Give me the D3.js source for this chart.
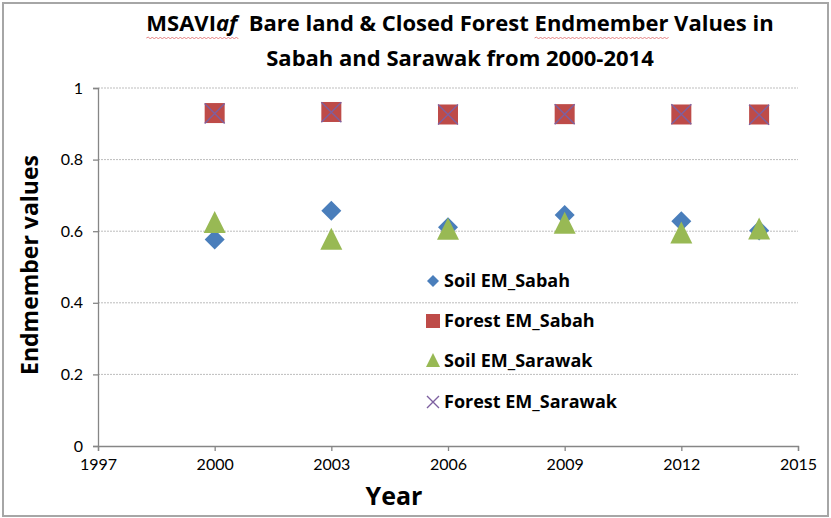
<!DOCTYPE html>
<html>
<head>
<meta charset="utf-8">
<script src="https://cdn.jsdelivr.net/npm/d3@7"></script>
<style>
  html, body { margin: 0; padding: 0; background: #fff; }
  svg { display: block; font-family: Lato, "Open Sans", sans-serif; }
  .bold { font-family: "Open Sans", sans-serif; font-weight: 700; white-space: pre; }
</style>
</head>
<body>
<svg id="chart" width="831" height="518"></svg>
<script>
// Endmember values per year
const years = [2000, 2003, 2006, 2009, 2012, 2014];
const soilSabah     = [0.577, 0.657, 0.611, 0.645, 0.628, 0.602];
const forestSabah   = [0.930, 0.933, 0.926, 0.927, 0.926, 0.926];
const soilSarawak   = [0.621, 0.574, 0.602, 0.619, 0.592, 0.603];
const forestSarawak = [0.929, 0.932, 0.926, 0.927, 0.927, 0.925];

const seriesNames = ["Soil EM_Sabah", "Forest EM_Sabah", "Soil EM_Sarawak", "Forest EM_Sarawak"];
const xTicks = [1997, 2000, 2003, 2006, 2009, 2012, 2015];
const yTicks = [0, 0.2, 0.4, 0.6, 0.8, 1];

const svg = d3.select("#chart");
const W = 831, H = 518;

// outer chart frame
svg.append("rect").attr("x", 3).attr("y", 3).attr("width", W - 6).attr("height", H - 5)
  .attr("fill", "#fff").attr("stroke", "#a6a6a6").attr("stroke-width", 2);

const x = d3.scaleLinear().domain([1997, 2015]).range([98, 798]);
const y = d3.scaleLinear().domain([0, 1]).range([446, 88]);

// horizontal gridlines
svg.append("g").selectAll("line").data(yTicks.filter(d => d > 0)).join("line")
  .attr("x1", x(1997)).attr("x2", x(2015))
  .attr("y1", d => y(d)).attr("y2", d => y(d))
  .attr("stroke", "#bdbdbd").attr("stroke-width", 1).attr("stroke-dasharray", "2,1");

// axes
const axisColor = "#868686";
const yAxis = svg.append("g").attr("transform", `translate(${x(1997)},0)`)
  .call(d3.axisLeft(y).tickValues(yTicks).tickFormat(d => d === 0 || d === 1 ? d : d3.format(".1f")(d)).tickSize(5).tickPadding(10));
const xAxis = svg.append("g").attr("transform", `translate(0,${y(0)})`)
  .call(d3.axisBottom(x).tickValues(xTicks).tickFormat(d3.format("d")).tickSize(5).tickPadding(8));
[yAxis, xAxis].forEach(g => {
  g.select(".domain").attr("stroke", axisColor).attr("stroke-width", 1.3);
  g.selectAll(".tick line").attr("stroke", axisColor).attr("stroke-width", 1.3);
  g.selectAll(".tick text").attr("fill", "#000").style("font-size", "16px")
    .style("font-family", "Lato, sans-serif");
});

// marker drawing helpers
const colors = { soilSabah: "#4a7ebb", forestSabah: "#be4b48", soilSarawak: "#98b954", forestSarawak: "#7d60a0" };
function drawMarker(g, kind, cx, cy, s) {
  if (kind === 0) {
    g.append("path").attr("d", `M${cx},${cy - s}L${cx + s},${cy}L${cx},${cy + s}L${cx - s},${cy}Z`)
      .attr("fill", colors.soilSabah);
  } else if (kind === 1) {
    g.append("rect").attr("x", cx - s).attr("y", cy - s).attr("width", 2 * s).attr("height", 2 * s)
      .attr("fill", colors.forestSabah);
  } else if (kind === 2) {
    g.append("path").attr("d", `M${cx},${cy - s * 1.15}L${cx + s},${cy + s * 0.85}L${cx - s},${cy + s * 0.85}Z`)
      .attr("fill", colors.soilSarawak);
  } else {
    g.append("path").attr("d", `M${cx - s},${cy - s}L${cx + s},${cy + s}M${cx + s},${cy - s}L${cx - s},${cy + s}`)
      .attr("stroke", colors.forestSarawak).attr("stroke-width", 1.4).attr("fill", "none");
  }
}

const allSeries = [soilSabah, forestSabah, soilSarawak, forestSarawak];
const sizes = [10, 10, 11, 10];
const marks = svg.append("g");
allSeries.forEach((vals, k) => {
  years.forEach((yr, i) => drawMarker(marks, k, x(yr), y(vals[i]), sizes[k]));
});

// legend
const legend = svg.append("g");
const legY = [281, 321, 361, 402];
const legSizes = [6, 7, 7, 6];
seriesNames.forEach((name, k) => {
  drawMarker(legend, k, 433, legY[k], legSizes[k]);
  legend.append("text").attr("class", "bold").attr("x", 444).attr("y", legY[k]).attr("dy", "0.35em")
    .style("font-size", "18px").text(name);
});

// axis titles
svg.append("text").attr("class", "bold").attr("transform", `translate(38,${y(0.5) - 2}) rotate(-90)`)
  .attr("text-anchor", "middle").style("font-size", "23px")
  .text("Endmember values");
svg.append("text").attr("class", "bold").attr("x", 394).attr("y", 505).attr("text-anchor", "middle")
  .style("font-size", "25px").text("Year");

// chart title
const title = svg.append("text").attr("class", "bold").attr("text-anchor", "middle").style("font-size", "22px");
const t1 = title.append("tspan").attr("x", 460).attr("y", 31);
t1.append("tspan").text("MSAVI");
t1.append("tspan").style("font-style", "italic").text("af");
t1.append("tspan").text("  Bare land & Closed Forest Endmember Values in");
title.append("tspan").attr("x", 460).attr("y", 66).text("Sabah and Sarawak from 2000-2014");

// spell-check style wavy underlines under two words of the title
function wavy(x0, x1, yy) {
  let d = `M${x0},${yy}`;
  for (let xx = x0, up = true; xx < x1; xx += 2, up = !up) d += `L${xx + 2},${yy + (up ? -1 : 1)}`;
  svg.append("path").attr("d", d).attr("fill", "none").attr("stroke", "#e06666").attr("stroke-width", 0.8);
}
const tb = t1.node().getBBox();
const n = t1.node();
// underline "MSAVIaf" (chars 0-6) and "Endmember"
const full = n.textContent;
const e0 = full.indexOf("Endmember");
const pos = i => n.getStartPositionOfChar(i).x;
const endPos = i => n.getEndPositionOfChar(i).x;
wavy(pos(0), endPos(6), 38);
wavy(pos(e0), endPos(e0 + 8), 38);
</script>
</body>
</html>
